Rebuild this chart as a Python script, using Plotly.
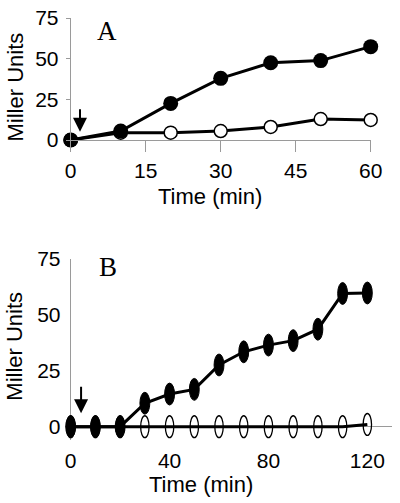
import plotly.graph_objects as go

# ---- data ----
time_a = [0, 10, 20, 30, 40, 50, 60]
filled_a = [0, 5.5, 22.5, 37.9, 47.5, 48.8, 57.4]
open_a = [0, 4.5, 4.5, 5.5, 8.0, 12.9, 12.3]

time_b = [0, 10, 20, 30, 40, 50, 60, 70, 80, 90, 100, 110, 120]
filled_b = [0, 0, 0, 10.5, 14.6, 16.7, 27.6, 33.5, 36.5, 38.5, 43.6, 59.6, 59.8]
open_b = [0, 0, 0, 0, 0, 0, 0, 0, 0, 0, 0, 0, 1.0]

yticks = [0, 25, 50, 75]
xticks_a = [0, 15, 30, 45, 60]
xticks_b = [0, 40, 80, 120]

W, H = 400, 503
SANS = "Liberation Sans, Arial, sans-serif"
SERIF = "Liberation Serif, Times New Roman, serif"
AXC = "#9a9a9a"

fig = go.Figure()

# Panel A
fig.add_trace(go.Scatter(x=time_a, y=open_a, mode="lines+markers",
                         line=dict(color="black", width=3),
                         marker=dict(size=13, color="white", line=dict(color="black", width=1.5)),
                         cliponaxis=False, xaxis="x", yaxis="y", showlegend=False))
fig.add_trace(go.Scatter(x=time_a, y=filled_a, mode="lines+markers",
                         line=dict(color="black", width=3),
                         marker=dict(size=15, color="black"),
                         cliponaxis=False, xaxis="x", yaxis="y", showlegend=False))

# Panel B (lines; ellipse markers drawn as shapes on the data scale)
fig.add_trace(go.Scatter(x=time_b, y=open_b, mode="lines",
                         line=dict(color="black", width=3),
                         cliponaxis=False, xaxis="x2", yaxis="y2", showlegend=False))
fig.add_trace(go.Scatter(x=time_b, y=filled_b, mode="lines",
                         line=dict(color="black", width=3),
                         cliponaxis=False, xaxis="x2", yaxis="y2", showlegend=False))

hw, hh = 2.0, 4.9
shapes = []
for t, v in zip(time_b, open_b):
    shapes.append(dict(type="circle", xref="x2", yref="y2", x0=t - hw * 0.85, x1=t + hw * 0.85,
                       y0=v - hh, y1=v + hh, line=dict(color="black", width=1.3),
                       fillcolor="rgba(0,0,0,0)", layer="above"))
for t, v in zip(time_b, filled_b):
    shapes.append(dict(type="circle", xref="x2", yref="y2", x0=t - hw, x1=t + hw,
                       y0=v - hh, y1=v + hh, line=dict(color="black", width=1),
                       fillcolor="black", layer="above"))

def py(p):
    return 1 - p / H

tickfont = dict(family=SANS, size=21, color="black")

# panel B scale: x 0 at 70.7 px, 2.472 px/min; y 0 at 426.7 px, 2.236 px/unit
bx0, bxs = 70.7, 2.472
by0, bys = 426.7, 2.236
bxr = [-2.5, 130]
byr = [-6, 75]

fig.update_layout(
    width=W, height=H, margin=dict(l=0, r=0, t=0, b=0, autoexpand=False),
    paper_bgcolor="white", plot_bgcolor="white",
    shapes=shapes,
    xaxis=dict(domain=[70.7 / W, 370.7 / W], range=[0, 60], anchor="y", automargin=False,
               tickvals=xticks_a, ticks="outside", ticklen=11, tickcolor=AXC, tickwidth=1,
               showline=True, linecolor=AXC, linewidth=1, showgrid=False, zeroline=False,
               tickfont=tickfont, ticklabelstandoff=1),
    yaxis=dict(domain=[py(140), py(18)], range=[0, 75], anchor="x", automargin=False,
               tickvals=yticks, ticks="outside", ticklen=4, tickcolor=AXC, tickwidth=1,
               showline=True, linecolor=AXC, linewidth=1, showgrid=False, zeroline=False,
               tickfont=tickfont, ticklabelstandoff=3),
    xaxis2=dict(domain=[(bx0 + bxr[0] * bxs) / W, (bx0 + bxr[1] * bxs) / W], range=bxr,
                anchor="y2", automargin=False,
                tickvals=xticks_b, ticks="", showline=False, showgrid=False,
                zeroline=True, zerolinecolor=AXC, zerolinewidth=1,
                tickfont=tickfont, ticklabelstandoff=6),
    yaxis2=dict(domain=[py(by0 - byr[0] * bys), py(by0 - byr[1] * bys)], range=byr,
                anchor="x2", automargin=False,
                tickvals=yticks, ticks="", showline=False, showgrid=False,
                zeroline=True, zerolinecolor=AXC, zerolinewidth=1,
                tickfont=tickfont, ticklabelstandoff=3),
)

ann = []
# panel letters
ann.append(dict(text="A", x=106.7 / W, y=py(30.5), xref="paper", yref="paper",
                xanchor="center", yanchor="middle",
                showarrow=False, font=dict(family=SERIF, size=27, color="black")))
ann.append(dict(text="B", x=107.5 / W, y=py(266.5), xref="paper", yref="paper",
                xanchor="center", yanchor="middle",
                showarrow=False, font=dict(family=SERIF, size=27, color="black")))
# axis titles
for txt, x, y, ang in [("Miller Units", 15, 87.5, -90), ("Time (min)", 210, 196.7, 0),
                       ("Miller Units", 15, 346.7, -90), ("Time (min)", 200.8, 484, 0)]:
    ann.append(dict(text=txt, x=x / W, y=py(y), xref="paper", yref="paper", textangle=ang,
                    xanchor="center", yanchor="middle",
                    showarrow=False, font=dict(family=SANS, size=22, color="black")))
# arrows marking time of induction
ann.append(dict(x=1.86, y=5.1, xref="x", yref="y", ax=0, ay=-24, text="", showarrow=True,
                arrowhead=2, arrowwidth=2, arrowsize=1.4, arrowcolor="black"))
ann.append(dict(x=4.2, y=6.0, xref="x2", yref="y2", ax=0, ay=-28, text="", showarrow=True,
                arrowhead=2, arrowwidth=2, arrowsize=1.4, arrowcolor="black"))
fig.update_layout(annotations=ann)

fig.write_html("out.html", config={"displayModeBar": False},
               post_script="document.body.style.margin='0';")
